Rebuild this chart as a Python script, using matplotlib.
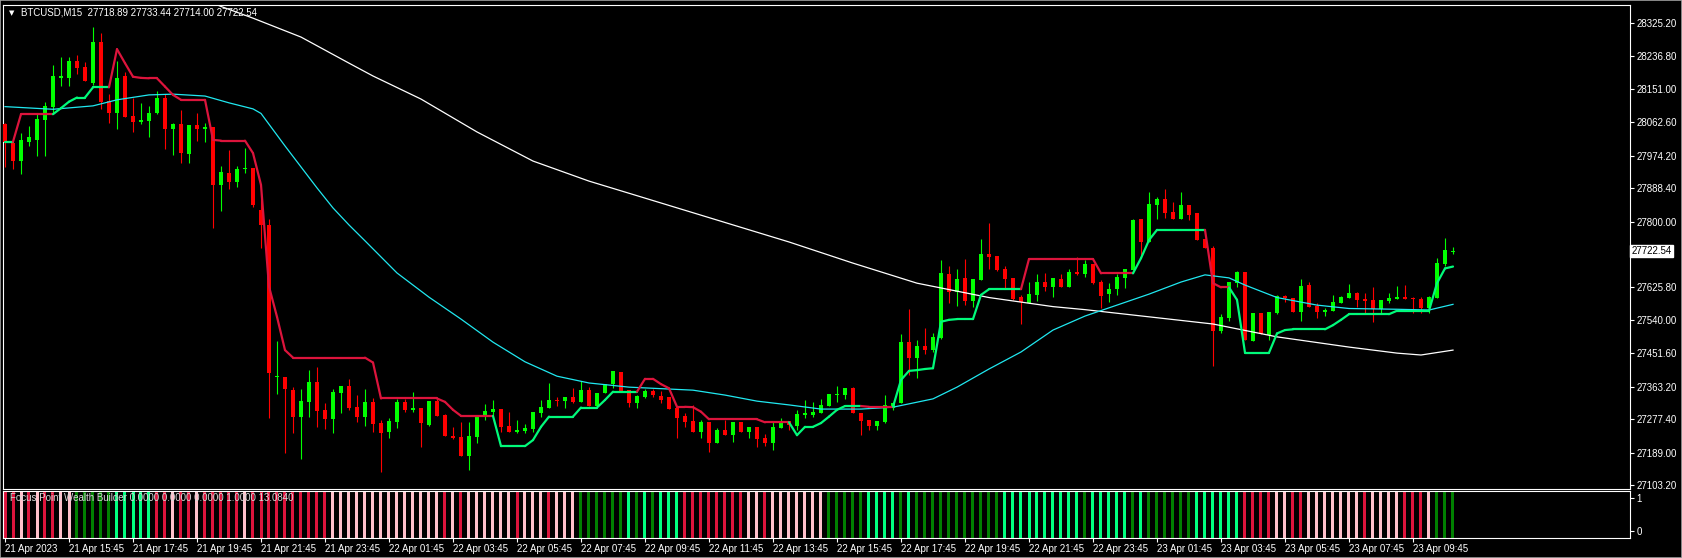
import numpy as np
import matplotlib
matplotlib.use("Agg")
import matplotlib.pyplot as plt
from matplotlib.collections import LineCollection
from matplotlib.patches import Rectangle

# BTCUSD M15 bars, 21 Apr 13:45 -> 23 Apr 11:00 (one value per bar)
opens = [
    28058, 28007, 27961, 28011, 28016, 28069, 28104, 28180, 28180, 28225,
    28210, 28166, 28276, 28119, 28088, 28185, 28079, 28064, 28067, 28086,
    28126, 28045, 28058, 27980, 28055, 28046, 28049, 27898, 27928, 27905,
    27938, 27942, 27831, 27791, 27388, 27388, 27354, 27284, 27323, 27376,
    27301, 27277, 27347, 27365, 27309, 27284, 27323, 27266, 27244, 27271,
    27323, 27301, 27307, 27262, 27325, 27288, 27233, 27231, 27181, 27231,
    27284, 27297, 27303, 27259, 27244, 27246, 27250, 27294, 27306, 27328,
    27325, 27335, 27323, 27354, 27313, 27346, 27369, 27403, 27354, 27321,
    27337, 27352, 27339, 27335, 27308, 27286, 27272, 27244, 27271, 27215,
    27249, 27235, 27271, 27244, 27257, 27228, 27213, 27255, 27272, 27259,
    27288, 27288, 27294, 27312, 27341, 27341, 27359, 27293, 27275, 27259,
    27271, 27308, 27319, 27482, 27440, 27472, 27460, 27493, 27661, 27614,
    27651, 27591, 27645, 27714, 27709, 27674, 27651, 27601, 27585, 27606,
    27641, 27628, 27648, 27628, 27667, 27661, 27688, 27641, 27608, 27621,
    27651, 27672, 27807, 27747, 27844, 27860, 27826, 27807, 27844, 27823,
    27754, 27731, 27510, 27546, 27637, 27667, 27485, 27559, 27500, 27559,
    27603, 27599, 27562, 27632, 27577, 27562, 27564, 27585, 27599, 27610,
    27595, 27592, 27569, 27591, 27595, 27601, 27599, 27595, 27572, 27599,
    27688, 27718.89,
]
highs = [
    28062, 28011, 28033, 28053, 28086, 28117, 28214, 28236, 28236, 28240,
    28223, 28314, 28299, 28137, 28225, 28196, 28126, 28113, 28106, 28145,
    28137, 28061, 28095, 28055, 28086, 28062, 28049, 27947, 27989, 27948,
    27995, 27942, 27875, 27806, 27484, 27388, 27362, 27356, 27407, 27414,
    27319, 27356, 27365, 27383, 27341, 27357, 27332, 27275, 27280, 27330,
    27330, 27350, 27307, 27325, 27330, 27290, 27257, 27271, 27271, 27284,
    27317, 27328, 27303, 27297, 27275, 27264, 27295, 27328, 27374, 27337,
    27335, 27360, 27378, 27363, 27346, 27369, 27405, 27403, 27354, 27341,
    27356, 27356, 27352, 27335, 27308, 27293, 27315, 27275, 27271, 27253,
    27275, 27271, 27271, 27257, 27257, 27237, 27271, 27280, 27272, 27301,
    27328, 27322, 27330, 27344, 27365, 27359, 27363, 27293, 27275, 27272,
    27341, 27319, 27503, 27569, 27487, 27519, 27506, 27698, 27682, 27674,
    27701, 27648, 27754, 27797, 27709, 27683, 27651, 27606, 27641, 27661,
    27665, 27651, 27661, 27674, 27705, 27698, 27688, 27645, 27637, 27660,
    27674, 27806, 27807, 27877, 27866, 27886, 27851, 27877, 27844, 27823,
    27754, 27735, 27555, 27641, 27669, 27667, 27559, 27559, 27562, 27606,
    27606, 27599, 27648, 27639, 27584, 27572, 27606, 27604, 27634, 27614,
    27610, 27628, 27592, 27610, 27630, 27632, 27601, 27601, 27603, 27703,
    27756, 27733.44,
]
lows = [
    27945, 27939, 27925, 28000, 27973, 27973, 28084, 28158, 28158, 28189,
    28172, 28161, 28097, 28061, 28044, 28077, 28038, 28057, 28024, 28084,
    27991, 27976, 27956, 27956, 28014, 28011, 27782, 27829, 27885, 27891,
    27928, 27838, 27731, 27281, 27343, 27189, 27241, 27172, 27284, 27257,
    27250, 27240, 27294, 27301, 27271, 27259, 27244, 27138, 27227, 27255,
    27296, 27297, 27204, 27259, 27286, 27234, 27224, 27181, 27143, 27213,
    27275, 27288, 27244, 27244, 27240, 27240, 27244, 27284, 27306, 27312,
    27308, 27319, 27323, 27313, 27313, 27346, 27359, 27350, 27309, 27308,
    27332, 27337, 27321, 27304, 27228, 27257, 27244, 27228, 27191, 27215,
    27235, 27218, 27244, 27227, 27204, 27206, 27196, 27253, 27249, 27249,
    27280, 27284, 27294, 27312, 27323, 27331, 27293, 27235, 27249, 27249,
    27268, 27301, 27319, 27394, 27387, 27450, 27454, 27489, 27584, 27577,
    27579, 27573, 27645, 27674, 27670, 27625, 27592, 27528, 27585, 27590,
    27617, 27601, 27628, 27628, 27659, 27654, 27635, 27572, 27586, 27606,
    27625, 27672, 27704, 27747, 27807, 27810, 27807, 27807, 27804, 27751,
    27729, 27418, 27504, 27538, 27626, 27487, 27485, 27503, 27487, 27555,
    27588, 27562, 27538, 27575, 27544, 27551, 27564, 27584, 27599, 27575,
    27559, 27535, 27559, 27584, 27595, 27595, 27559, 27557, 27557, 27599,
    27682, 27714.00,
]
closes = [
    28011, 27961, 28016, 28023, 28071, 28106, 28185, 28185, 28225, 28207,
    28172, 28276, 28117, 28088, 28180, 28077, 28064, 28069, 28086, 28126,
    28045, 28057, 27982, 28055, 28045, 28049, 27898, 27932, 27905, 27939,
    27942, 27844, 27791, 27399, 27390, 27356, 27284, 27325, 27376, 27300,
    27277, 27350, 27365, 27308, 27284, 27322, 27264, 27241, 27272, 27323,
    27301, 27307, 27268, 27325, 27286, 27234, 27227, 27181, 27233, 27284,
    27299, 27304, 27257, 27244, 27249, 27255, 27295, 27309, 27328, 27325,
    27335, 27323, 27354, 27313, 27346, 27369, 27405, 27352, 27321, 27339,
    27352, 27341, 27328, 27304, 27281, 27271, 27244, 27271, 27215, 27249,
    27235, 27271, 27244, 27257, 27225, 27213, 27257, 27272, 27262, 27290,
    27293, 27295, 27315, 27344, 27344, 27359, 27293, 27273, 27259, 27272,
    27315, 27319, 27482, 27440, 27472, 27460, 27495, 27665, 27614, 27648,
    27591, 27648, 27714, 27707, 27672, 27648, 27595, 27586, 27608, 27641,
    27628, 27650, 27628, 27667, 27661, 27688, 27637, 27604, 27622, 27654,
    27674, 27804, 27747, 27846, 27860, 27823, 27807, 27844, 27817, 27751,
    27729, 27510, 27548, 27641, 27667, 27487, 27559, 27503, 27562, 27603,
    27597, 27562, 27630, 27575, 27562, 27566, 27586, 27601, 27610, 27592,
    27591, 27569, 27592, 27599, 27601, 27595, 27594, 27572, 27601, 27690,
    27725, 27722.54,
]

# trailing stop line (one value per bar) and its direction G=up / R=down
trail = (
    [28011, 28011] + [28084] * 5
    + [28100, 28117, 28128, 28128, 28155, 28155, 28155]
    + [28256, 28219, 28183, 28180, 28179, 28179, 28157, 28135] + [28122] * 4
    + [28016] + [28014] * 4 + [27981, 27897, 27628, 27548, 27460]
    + [27440] * 10 + [27427] + [27332] * 8 + [27323, 27302] + [27286] * 5
    + [27206] * 4 + [27222, 27257] + [27284] * 4 + [27308] * 3 + [27328]
    + [27350] * 4
    + [27384, 27384, 27370, 27359, 27310, 27310, 27309, 27297]
    + [27277] * 7 + [27269] * 4
    + [27235, 27257, 27257, 27267, 27284, 27302] + [27312] * 3
    + [27310] * 4
    + [27381, 27405, 27407, 27410, 27412, 27535, 27540] + [27542] * 3
    + [27606] + [27621] * 5
    + [27701] * 9 + [27663] * 5
    + [27703, 27751] + [27778] * 7
    + [27637, 27626, 27626]
    + [27593] + [27453] * 4 + [27504, 27513] + [27515] * 5 + [27526, 27540]
    + [27555] * 6 + [27564] * 5 + [27637, 27676, 27681]
)
trail_dir = (
    "GG" + "R" * 5 + "G" * 7 + "R" * 48 + "G" * 18 + "R" * 19 + "G" * 9
    + "R" * 4 + "G" * 16 + "R" * 14 + "G" * 9 + "R" * 3 + "G" * 28
)

# moving averages, read at a few bars (bar index, price)
cyan_bars = [0, 6, 11, 14, 18, 21, 25, 28, 31, 32, 35, 39, 41, 43, 45, 49, 53,
             57, 61, 65, 69, 73, 78, 86, 90, 94, 98, 102, 107, 111, 116, 119,
             123, 127, 131, 135, 139, 143, 147, 150, 153, 155, 159, 164, 168,
             174, 178, 181]
cyan_vals = [28104, 28097, 28106, 28122, 28135, 28137, 28132, 28114, 28098,
             28086, 28000, 27889, 27836, 27791, 27749, 27664, 27600, 27542,
             27481, 27429, 27391, 27373, 27362, 27354, 27341, 27325, 27315,
             27304, 27304, 27309, 27331, 27362, 27410, 27455, 27513, 27550,
             27579, 27608, 27640, 27659, 27651, 27632, 27599, 27579, 27570,
             27568, 27566, 27581]
white_bars = [24, 27, 31, 37, 43, 46, 52, 59, 66, 73, 80, 89, 98, 106, 114,
              123, 131, 135, 143, 151, 159, 168, 174, 177, 181]
white_vals = [28395, 28369, 28338, 28288, 28219, 28185, 28124, 28037, 27960,
              27907, 27862, 27804, 27746, 27690, 27637, 27599, 27575, 27567,
              27548, 27529, 27495, 27468, 27452, 27447, 27460]

# Focus Point Wealth Builder histogram state per bar
# r=crimson p=pink g=green s=springgreen
hist_state = (
    "rrprprrppg" "ggggsssssr" "rprrprrrrr" "prrrrrrrrr" "rppppppppp"
    "ppppprprpp" "pppprppprp" "ppggggggsg" "sgsssrrrrr" "rrrpprpppp"
    "pppgggggss" "ssgsgggggg" "gggggsssss" "sssssgssss" "sgsggggggs"
    "sssssrrrrp" "prrppppppp" "rpppprrrpg" "gg"
)

price_ticks = [28325.20, 28236.80, 28151.00, 28062.60, 27974.20, 27888.40,
               27800.00, 27625.80, 27540.00, 27451.60, 27363.20, 27277.40,
               27189.00, 27103.20]
time_labels = ["21 Apr 2023", "21 Apr 15:45", "21 Apr 17:45", "21 Apr 19:45",
               "21 Apr 21:45", "21 Apr 23:45", "22 Apr 01:45", "22 Apr 03:45",
               "22 Apr 05:45", "22 Apr 07:45", "22 Apr 09:45", "22 Apr 11:45",
               "22 Apr 13:45", "22 Apr 15:45", "22 Apr 17:45", "22 Apr 19:45",
               "22 Apr 21:45", "22 Apr 23:45", "23 Apr 01:45", "23 Apr 03:45",
               "23 Apr 05:45", "23 Apr 07:45", "23 Apr 09:45"]
time_label_bars = [0, 8, 16, 24, 32, 40, 48, 56, 64, 72, 80, 88, 96, 104, 112,
                   120, 128, 136, 144, 152, 160, 168, 176]

header = "BTCUSD,M15  27718.89 27733.44 27714.00 27722.54"
ind_header = "Focus Point Wealth Builder 0.0000 0.0000 0.0000 1.0000 13.0840"
last_price = 27722.54

# Styling
W, H = 1682, 558
FONT = ["Liberation Sans", "DejaVu Sans"]
BULL, BEAR = "#00FF00", "#FF0000"
TRAIL_COLORS = {"G": "#00FA7A", "R": "#DC143C"}
HIST_COLORS = {"r": "#DC143C", "p": "#FFC0CB", "g": "#008000", "s": "#00FF7F"}
CYAN = "#20E8F0"

plt.rcParams["font.family"] = FONT


def px_box(left, top, right, bottom):
    """Axes rectangle from pixel edges (top-left origin)."""
    return [left / W, 1 - bottom / H, (right - left) / W, (bottom - top) / H]


def style_axes(ax):
    ax.set_facecolor("black")
    for s in ax.spines.values():
        s.set_color("white")
        s.set_linewidth(0.8)
    ax.set_xlim(-0.25, 203.125)


def draw_candles(ax):
    x = np.arange(len(opens))
    o, h, l, c = map(np.array, (opens, highs, lows, closes))
    cols = np.where(c >= o, BULL, BEAR)
    ax.vlines(x, l, h, colors=cols, linewidth=0.8, zorder=2)
    body = np.maximum(np.abs(c - o), 2.6)
    ax.bar(x, body, bottom=np.minimum(o, c), width=0.6, color=cols,
           linewidth=0, zorder=3)


def draw_trail(ax):
    x = np.arange(len(trail))
    segs, cols = [], []
    for i in range(1, len(trail)):
        segs.append([(x[i - 1], trail[i - 1]), (x[i], trail[i])])
        cols.append(TRAIL_COLORS[trail_dir[i]])
    ax.add_collection(LineCollection(segs, colors=cols, linewidths=1.6,
                                     zorder=5, capstyle="round"))


def main():
    fig = plt.figure(figsize=(W / 100, H / 100), dpi=100, facecolor="black")
    ax = fig.add_axes(px_box(3, 5, 1630, 488.5))
    ax2 = fig.add_axes(px_box(3, 490.5, 1630, 537.5))
    style_axes(ax)
    style_axes(ax2)

    # price panel
    draw_candles(ax)
    ax.plot(white_bars, white_vals, color="white", lw=0.9, zorder=4)
    ax.plot(cyan_bars, cyan_vals, color=CYAN, lw=0.9, zorder=4)
    draw_trail(ax)
    ax.set_ylim(27093.9, 28372.8)
    ax.set_xticks([])
    ax.yaxis.tick_right()
    ax.set_yticks(price_ticks)
    ax.set_yticklabels([f"{v:.2f}" for v in price_ticks])
    ax.tick_params(axis="y", colors="white", length=3, width=0.8, pad=1.5,
                   labelsize=7)
    ax.text(0.0035, 0.9835, "\u25bc", transform=ax.transAxes, color="white",
            fontsize=5, va="center", ha="left", family=["DejaVu Sans"])
    ax.text(0.0108, 0.9835, header, transform=ax.transAxes, color="white",
            fontsize=7, va="center", ha="left")
    ax.text(1.001, last_price, f"{last_price:.2f}",
            transform=ax.get_yaxis_transform(), color="black", fontsize=7,
            va="center", ha="left", zorder=10, clip_on=False,
            bbox=dict(boxstyle="square,pad=0.12", fc="white", ec="white"))

    # indicator panel
    x = np.arange(len(hist_state))
    ax2.bar(x, np.ones(len(x)), width=0.375,
            color=[HIST_COLORS[k] for k in hist_state], linewidth=0)
    ax2.set_ylim(0, 1)
    ax2.yaxis.tick_right()
    ax2.set_yticks([0.84, 0.14])
    ax2.set_yticklabels(["1", "0"])
    ax2.tick_params(axis="y", colors="white", length=3, width=0.8, pad=1.5,
                    labelsize=7)
    ax2.set_xticks(time_label_bars)
    ax2.set_xticklabels(time_labels)
    ax2.tick_params(axis="x", colors="white", length=3, width=0.8, pad=2,
                    labelsize=7)
    for lbl in ax2.get_xticklabels():
        lbl.set_ha("left")
    ax2.text(0.004, 0.84, ind_header, transform=ax2.transAxes,
             color="#D8D8D8", fontsize=7, va="center", ha="left", zorder=6)

    # window frame
    fig.add_artist(Rectangle((0, 0), 1, 1, transform=fig.transFigure,
                             fill=False, edgecolor="#A0A0A0", lw=1.2))
    fig.savefig("out.png", dpi=100, facecolor="black")


if __name__ == "__main__":
    main()
